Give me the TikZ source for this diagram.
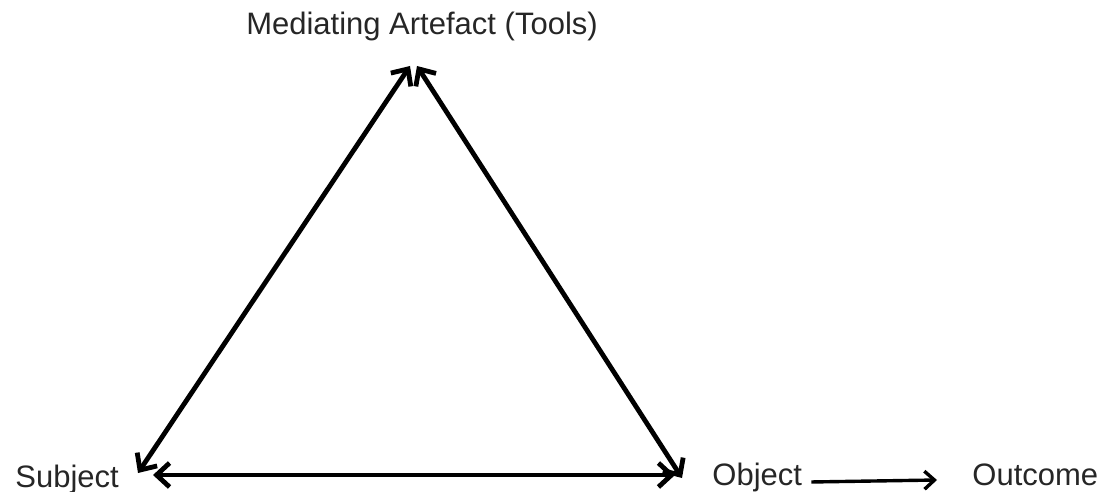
\documentclass[tikz,border=0pt]{standalone}
\usepackage{fontspec}
\setmainfont{Liberation Sans}
\usetikzlibrary{arrows.meta}

\begin{document}
\begin{tikzpicture}[x=0.5pt, y=-0.5pt,
  lbl/.style={inner sep=0pt, font=\fontsize{15.5}{18}\selectfont, text=black!85},
  side/.style={line width=2.4pt, {Straight Barb[length=6.5pt,width=12pt]}-{Straight Barb[length=6.5pt,width=12pt]}},
  flow/.style={line width=1.7pt, -{Straight Barb[length=5pt,width=9pt]}}]
  \useasboundingbox (0,0) rectangle (1104,492);
  % labels
  \node[lbl, anchor=base] (tools) at (422,35) {Mediating Artefact (Tools)};
  \node[lbl, anchor=base west] (subj) at (15,487) {Subject};
  \node[lbl, anchor=base west] (obj) at (712,485) {Object};
  \node[lbl, anchor=base west] (outc) at (972,485) {Outcome};
  % triangle corners
  \coordinate (topl) at (410,66);
  \coordinate (topr) at (417,66);
  \coordinate (botl) at (138,473);
  \coordinate (botr) at (682,478);
  \coordinate (basel) at (153,475);
  \coordinate (baser) at (675,475);
  \draw[side] (botl) -- (topl);
  \draw[side] (botr) -- (topr);
  \draw[side] (basel) -- (baser);
  \draw[flow] (obj.east) ++(9,5) coordinate (o1) -- (937,480) coordinate (o2);
\end{tikzpicture}
\end{document}
